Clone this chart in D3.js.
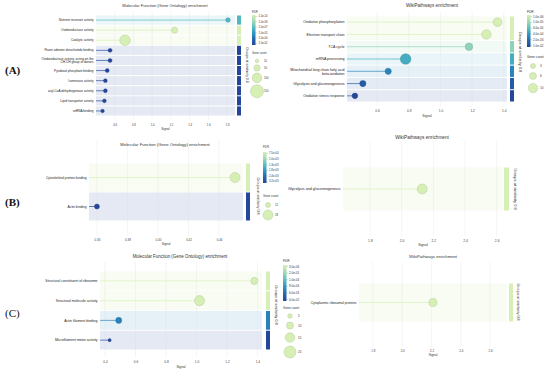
<!DOCTYPE html>
<html>
<head>
<meta charset="utf-8">
<script src="https://cdn.jsdelivr.net/npm/d3@7"></script>
<style>
body { margin: 0; background: #fff; }
svg text { font-family: "Liberation Sans", Arial, sans-serif; }
.plabel { font-family: "Liberation Serif", "Times New Roman", serif; }
</style>
</head>
<body>
<svg id="fig" width="550" height="372"></svg>
<script>
// colour ramp used for FDR (light = most significant)
const palette = ["#d6efb4", "#a3dab5", "#5fbfc0", "#2c98c2", "#2667ad", "#24479c"]

// (A) Molecular Function
const mfA_terms = ["Nutrient reservoir activity", "Oxidoreductase activity", "Catalytic activity",
  "Flavin adenine dinucleotide binding", "Oxidoreductase activity, acting on the\nCH-CH group of donors",
  "Pyridoxal phosphate binding", "Isomerase activity", "acyl-CoA dehydrogenase activity",
  "Lipid transporter activity", "snRNA binding"]
const mfA_signal = [1.81, 1.24, 0.71, 0.55, 0.55, 0.52, 0.50, 0.50, 0.49, 0.47]
const mfA_fdr = [3e-7, 1e-10, 1e-10, 1e-2, 1e-2, 1e-2, 1e-2, 1e-2, 1e-2, 1e-2]
const mfA_count = [25, 45, 115, 15, 15, 14, 13, 14, 12, 10]
const mfA_group = [0, 1, 2, 3, 4, 5, 6, 7, 8, 9]
const mfA_fdrTicks = ["1.0e-10", "1.0e-08", "1.0e-07", "1.0e-05", "1.0e-04", "1.0e-02"]
const mfA_countTicks = [10, 50, 100, 150]
const mfA_xTicks = [0.6, 0.8, 1.0, 1.2, 1.4, 1.6, 1.8]

// (A) WikiPathways
const wpA_terms = ["Oxidative phosphorylation", "Electron transport chain", "TCA cycle", "mRNA processing",
  "Mitochondrial long chain fatty acid\nbeta-oxidation", "Glycolysis and gluconeogenesis", "Oxidative stress response"]
const wpA_signal = [1.36, 1.29, 1.18, 0.78, 0.67, 0.51, 0.46]
const wpA_fdr = [1e-6, 1e-6, 1.7e-5, 1.5e-4, 7.6e-4, 3.8e-3, 1e-2]
const wpA_count = [9, 10, 7, 12, 5, 5, 4]
const wpA_group = [0, 0, 1, 2, 3, 4, 5]
const wpA_fdrTicks = ["1.0e-06", "1.0e-05", "6.0e-05", "4.0e-04", "2.0e-03", "1.0e-02"]
const wpA_countTicks = [3, 6, 10]
const wpA_xTicks = [0.6, 0.8, 1.0, 1.2, 1.4]

// (B) Molecular Function
const mfB_terms = ["Cytoskeletal protein binding", "Actin binding"]
const mfB_signal = [0.4505, 0.36]
const mfB_fdr = [7.5e-4, 3.2e-3]
const mfB_count = [18, 12]
const mfB_group = [0, 1]
const mfB_fdrTicks = ["7.5e-04", "1.0e-03", "1.3e-03", "1.8e-03", "2.4e-03", "3.2e-03"]
const mfB_countTicks = [12, 18]
const mfB_xTicks = [0.36, 0.38, 0.40, 0.42, 0.44]

// (B) WikiPathways
const wpB_terms = ["Glycolysis and gluconeogenesis"]
const wpB_signal = [2.13]
const wpB_fdr = [4.6e-3]
const wpB_count = [5]
const wpB_group = [0]
const wpB_xTicks = [1.8, 2.0, 2.2, 2.4, 2.6]

// (C) Molecular Function
const mfC_terms = ["Structural constituent of ribosome", "Structural molecule activity",
  "Actin filament binding", "Microfilament motor activity"]
const mfC_signal = [1.38, 1.02, 0.49, 0.43]
const mfC_fdr = [3e-6, 3e-6, 2.1e-3, 4e-2]
const mfC_count = [10, 16, 8, 2]
const mfC_group = [0, 1, 2, 3]
const mfC_fdrTicks = ["3.0e-06", "2.0e-05", "1.0e-04", "9.0e-04", "6.0e-03", "4.0e-02"]
const mfC_countTicks = [5, 10, 15, 20]
const mfC_xTicks = [0.4, 0.6, 0.8, 1.0, 1.2, 1.4]

// (C) WikiPathways
const wpC_terms = ["Cytoplasmic ribosomal proteins"]
const wpC_signal = [2.21]
const wpC_fdr = [3e-6]
const wpC_count = [12]
const wpC_group = [0]
const wpC_xTicks = [1.8, 2.0, 2.2, 2.4, 2.6]

const MF_TITLE = "Molecular Function (Gene Ontology) enrichment"
const WP_TITLE = "WikiPathways enrichment"

// layout of each small chart
let panels = [
  {title: MF_TITLE, terms: mfA_terms, signal: mfA_signal, fdr: mfA_fdr, count: mfA_count, group: mfA_group,
   fdrTicks: mfA_fdrTicks, countTicks: mfA_countTicks, xTicks: mfA_xTicks, fmt: ".1f",
   x0: 96, x1: 235, xDomain: [0.40, 1.885], yRange: [15, 116], gridTop: 11, gridBottom: 120, tickY: 125, signalY: 130,
   titleX: 165, titleY: 7, fs: 3.15, gx: 237, gw: 4, simX: 246, simY: 65,
   sizeDomain: [10, 150], sizeRange: [1.8, 6.5],
   legend: {x: 252, fdrY: 12.5, barY: 15, barH: 30, lx: 258.5, gcY: 54, cx: 257, cy0: 61, gap: 2, tx: 264}},
  {title: WP_TITLE, terms: wpA_terms, signal: wpA_signal, fdr: wpA_fdr, count: wpA_count, group: wpA_group,
   fdrTicks: wpA_fdrTicks, countTicks: wpA_countTicks, xTicks: wpA_xTicks, fmt: ".1f",
   x0: 347, x1: 507, xDomain: [0.41, 1.42], yRange: [16, 102], gridTop: 12, gridBottom: 106, tickY: 111, signalY: 116.5,
   titleX: 432, titleY: 7, fs: 3.6, gx: 510, gw: 4, simX: 519, simY: 52,
   sizeDomain: [3, 10], sizeRange: [2.5, 4.7],
   legend: {x: 527, fdrY: 12.5, barY: 15, barH: 32, lx: 533, gcY: 58, cx: 533, cy0: 66, gap: 4, tx: 540}},
  {title: MF_TITLE, terms: mfB_terms, signal: mfB_signal, fdr: mfB_fdr, count: mfB_count, group: mfB_group,
   fdrTicks: mfB_fdrTicks, countTicks: mfB_countTicks, xTicks: mfB_xTicks, fmt: ".2f",
   x0: 89, x1: 243, xDomain: [0.3548, 0.4557], yRange: [163, 221], gridTop: 139, gridBottom: 236, tickY: 240, signalY: 245,
   titleX: 165, titleY: 145.5, fs: 3.3, gx: 246, gw: 4, simX: 257, simY: 196,
   sizeDomain: [12, 18], sizeRange: [2.5, 5],
   legend: {x: 263, fdrY: 148, barY: 152, barH: 31, lx: 269, gcY: 197, cx: 268, cy0: 205, gap: 2.5, tx: 275}},
  {title: WP_TITLE, terms: wpB_terms, signal: wpB_signal, fdr: wpB_fdr, count: wpB_count, group: wpB_group,
   fdrTicks: [], countTicks: [], xTicks: wpB_xTicks, fmt: ".1f",
   x0: 343, x1: 503, xDomain: [1.63, 2.64], yRange: [167, 211], gridTop: 141, gridBottom: 236, tickY: 241, signalY: 246,
   titleX: 422, titleY: 139, fs: 3.7, gx: 504, gw: 5, simX: 514, simY: 189,
   sizeDomain: [2, 5], sizeRange: [2.5, 5], legend: null},
  {title: MF_TITLE, terms: mfC_terms, signal: mfC_signal, fdr: mfC_fdr, count: mfC_count, group: mfC_group,
   fdrTicks: mfC_fdrTicks, countTicks: mfC_countTicks, xTicks: mfC_xTicks, fmt: ".1f",
   x0: 100, x1: 262, xDomain: [0.367, 1.43], yRange: [271, 350], gridTop: 262, gridBottom: 357, tickY: 362, signalY: 368,
   titleX: 180, titleY: 257.5, fs: 3.5, gx: 266, gw: 4, simX: 274.5, simY: 305,
   sizeDomain: [5, 20], sizeRange: [2.3, 6],
   legend: {x: 283, fdrY: 262, barY: 265, barH: 36, lx: 289, gcY: 309, cx: 290, cy0: 316, gap: 3.7, tx: 298}},
  {title: WP_TITLE, terms: wpC_terms, signal: wpC_signal, fdr: wpC_fdr, count: wpC_count, group: wpC_group,
   fdrTicks: [], countTicks: [], xTicks: wpC_xTicks, fmt: ".1f",
   x0: 359, x1: 507, xDomain: [1.705, 2.716], yRange: [283, 322], gridTop: 262, gridBottom: 347, tickY: 351, signalY: 356,
   titleX: 433, titleY: 257.5, fs: 3.3, gx: 509, gw: 4, simX: 517, simY: 302,
   sizeDomain: [5, 20], sizeRange: [2.3, 6], legend: null}
]

let svg = d3.select("#fig")
let defs = svg.append("defs")

function tint(c) {
  let t = d3.hsl(c).l > 0.7 ? 0.17 : 0.12
  return d3.interpolateRgb("#ffffff", c)(t)
}

function drawPanel(p, k) {
  let g = svg.append("g")
  let fs = p.fs
  let x = d3.scaleLinear().domain(p.xDomain).range([p.x0, p.x1])
  let y = d3.scaleBand().domain(d3.range(p.terms.length)).range(p.yRange)
  let logs = p.fdrTicks.map(s => Math.log10(+s))
  let color = logs.length > 1
    ? d3.scaleLinear().domain(logs).range(palette.slice(0, logs.length)).clamp(true)
    : () => palette[0]
  let col = i => color(Math.log10(p.fdr[i]))
  let r = d3.scaleLinear().domain(p.sizeDomain).range(p.sizeRange)
  let mid = i => y(i) + y.bandwidth() / 2

  // background bands + group bars
  let groups = d3.groups(d3.range(p.terms.length), i => p.group[i])
  groups.forEach(([key, idx]) => {
    let i0 = d3.min(idx), i1 = d3.max(idx)
    let top = y(i0) + 0.5, bot = y(i1) + y.bandwidth() - 0.5
    g.append("rect").attr("x", p.x0).attr("y", top).attr("width", p.x1 - p.x0)
      .attr("height", bot - top).attr("fill", tint(col(i0)))
    g.append("rect").attr("x", p.gx).attr("y", top).attr("width", p.gw)
      .attr("height", bot - top).attr("fill", col(i0))
  })

  // vertical grid
  g.selectAll(".grid").data(p.xTicks).join("line")
    .attr("x1", d => x(d)).attr("x2", d => x(d))
    .attr("y1", p.gridTop).attr("y2", p.gridBottom)
    .attr("stroke", "#dcdcdc").attr("stroke-opacity", 0.6).attr("stroke-width", 0.5)

  // lollipop stems
  g.selectAll(".stem").data(p.terms).join("line")
    .attr("x1", p.x0).attr("x2", (d, i) => x(p.signal[i]))
    .attr("y1", (d, i) => mid(i)).attr("y2", (d, i) => mid(i))
    .attr("stroke", (d, i) => col(i)).attr("stroke-opacity", 0.75).attr("stroke-width", 0.9)

  // dots
  g.selectAll(".dot").data(p.terms).join("circle")
    .attr("cx", (d, i) => x(p.signal[i])).attr("cy", (d, i) => mid(i))
    .attr("r", (d, i) => r(p.count[i]))
    .attr("fill", (d, i) => col(i))
    .attr("stroke", (d, i) => d3.color(col(i)).darker(0.6)).attr("stroke-width", 0.4)

  // term labels
  g.selectAll(".term").data(p.terms).join("text")
    .attr("text-anchor", "end").attr("font-size", fs).attr("fill", "#222")
    .each(function(d, i) {
      let lines = d.split("\n")
      let t = d3.select(this)
      lines.forEach((s, j) => {
        t.append("tspan").attr("x", p.x0 - 2.5)
          .attr("y", mid(i) + fs * 0.35 + (j - (lines.length - 1) / 2) * fs * 1.1)
          .text(s)
      })
    })

  // title
  g.append("text").attr("x", p.titleX).attr("y", p.titleY)
    .attr("text-anchor", "middle").attr("font-size", fs * 1.27).attr("fill", "#333")
    .text(p.title)

  // x axis
  let axis = d3.axisBottom(x).tickValues(p.xTicks).tickFormat(d3.format(p.fmt)).tickSize(0).tickPadding(0)
  let ag = g.append("g").attr("transform", `translate(0,${p.tickY - 0.36 * fs * 0.9})`).call(axis)
  ag.select(".domain").remove()
  ag.selectAll("text").attr("font-size", fs * 0.9).attr("fill", "#444")

  g.append("text").attr("x", (p.x0 + p.x1) / 2).attr("y", p.signalY)
    .attr("text-anchor", "middle").attr("font-size", fs * 0.95).attr("fill", "#333")
    .text("Signal")

  // group label
  g.append("text").attr("transform", `translate(${p.simX},${p.simY}) rotate(90)`)
    .attr("text-anchor", "middle").attr("font-size", fs * 1.1).attr("fill", "#333")
    .text("Groups at similarity 0.8")

  if (p.legend) drawLegend(p, k, r)
}

function drawLegend(p, k, r) {
  let L = p.legend
  let fs = p.fs
  let g = svg.append("g")
  let n = p.fdrTicks.length
  let gid = "fdrGrad" + k
  let grad = defs.append("linearGradient").attr("id", gid)
    .attr("x1", 0).attr("x2", 0).attr("y1", 0).attr("y2", 1)
  palette.slice(0, n).forEach((c, i) => {
    grad.append("stop").attr("offset", i / (n - 1)).attr("stop-color", c)
  })
  g.append("text").attr("x", L.x).attr("y", L.fdrY).attr("font-size", fs * 0.9).attr("fill", "#333").text("FDR")
  g.append("rect").attr("x", L.x).attr("y", L.barY).attr("width", 3.5).attr("height", L.barH)
    .attr("fill", `url(#${gid})`)
  let ty = d3.scalePoint().domain(p.fdrTicks).range([L.barY + 1.5, L.barY + L.barH - 1.5])
  g.selectAll(".ftick").data(p.fdrTicks).join("line")
    .attr("x1", L.x + 3.5).attr("x2", L.x + 4.8)
    .attr("y1", d => ty(d)).attr("y2", d => ty(d))
    .attr("stroke", "#555").attr("stroke-width", 0.3)
  g.selectAll(".flab").data(p.fdrTicks).join("text")
    .attr("x", L.lx).attr("y", d => ty(d) + fs * 0.3)
    .attr("font-size", fs * 0.85).attr("fill", "#333").text(d => d)

  g.append("text").attr("x", L.x).attr("y", L.gcY).attr("font-size", fs * 0.9).attr("fill", "#333").text("Gene count")
  let cy = L.cy0, prev = null
  p.countTicks.forEach(c => {
    let rr = r(c)
    if (prev !== null) cy += prev + rr + L.gap
    g.append("circle").attr("cx", L.cx).attr("cy", cy).attr("r", rr)
      .attr("fill", palette[0]).attr("stroke", d3.color(palette[0]).darker(0.6)).attr("stroke-width", 0.4)
    g.append("text").attr("x", L.tx).attr("y", cy + fs * 0.3).attr("font-size", fs * 0.85)
      .attr("fill", "#333").text(c)
    prev = rr
  })
}

panels.forEach((p, k) => drawPanel(p, k))

// panel letters
const panelLetters = ["(A)", "(B)", "(C)"]
const letterY = [74, 206, 317]
svg.selectAll(".plabel").data(panelLetters).join("text")
  .attr("class", "plabel")
  .attr("x", 5).attr("y", (d, i) => letterY[i])
  .attr("font-size", 11).attr("font-weight", (d, i) => i < 2 ? "bold" : "normal")
  .attr("fill", "#111").text(d => d)
</script>
</body>
</html>
